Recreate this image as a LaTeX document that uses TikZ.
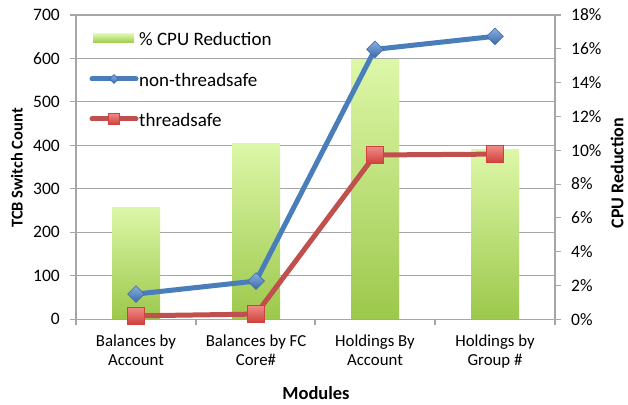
\documentclass[tikz,border=0pt]{standalone}
\usepackage{fontspec}
\setmainfont{Carlito}
\usetikzlibrary{shapes.geometric}
\definecolor{gridc}{HTML}{A6A6A6}
\definecolor{barTop}{HTML}{DDF7A8}
\definecolor{barBot}{HTML}{9CC84B}
\definecolor{blueL}{HTML}{4A7EBB}
\definecolor{blueM}{HTML}{6A9BDB}
\definecolor{blueD}{HTML}{3C6AA8}
\definecolor{redL}{HTML}{C0504D}
\definecolor{redM}{HTML}{F08A86}
\definecolor{redD}{HTML}{D0403C}
\tikzset{
  lbl/.style={font=\fontsize{17.5}{19}\selectfont, inner sep=0pt},
  catl/.style={font=\fontsize{16.8}{19}\selectfont, inner sep=0pt, align=center},
  legl/.style={font=\fontsize{19}{21}\selectfont, inner sep=0pt},
  ttl/.style={font=\fontsize{16.5}{18}\selectfont\bfseries, inner sep=0pt},
  grid line/.style={draw=gridc, line width=1.1pt},
  bar/.style={top color=barTop, bottom color=barBot, draw=none},
  bline/.style={draw=blueL, line width=5pt, line join=round},
  rline/.style={draw=redL, line width=5pt, line join=round},
  bmark/.style={diamond, draw=blueD, line width=0.6pt, top color=blueM!80!white, bottom color=blueD, minimum width=17pt, minimum height=17pt, inner sep=0pt},
  rmark/.style={rectangle, draw=redD, line width=0.6pt, top color=redM, bottom color=redD, minimum size=17pt, inner sep=0pt},
}
\begin{document}
\begin{tikzpicture}[x=1pt,y=1pt]
\useasboundingbox (0,0) rectangle (628,404);
\fill[white] (0,0) rectangle (628,404);
\begin{scope}[shift={(76,84.7)}, y=0.4347pt]
  % grid lines
  \foreach \v in {100,200,...,700} \draw[grid line] (0,\v) -- (479,\v);
  % bars
  \fill[bar] (36,0) rectangle (84,258);
  \fill[bar] (156,0) rectangle (204,405);
  \fill[bar] (275,0) rectangle (323,598);
  \fill[bar] (395,0) rectangle (443,391);
  % axes
  \draw[grid line] (0,0) -- (0,700);
  \draw[grid line] (479,0) -- (479,700);
  \draw[grid line] (0,0) -- (479,0);
  % left ticks and labels
  \foreach \v in {0,100,...,700} {
    \draw[grid line] (-6,\v) -- (0,\v);
    \node[lbl, anchor=east] (l\v) at (-16,\v) {\v};
  }
  % right ticks and labels
  \foreach \p in {0,2,...,18} {
    \draw[grid line] (479,{\p*700/18}) -- (485,{\p*700/18});
    \node[lbl, anchor=west] (r\p) at (495,{\p*700/18}) {\p\%};
  }
  % bottom ticks
  \foreach \x in {0,120,239,359,479} \draw[grid line] (\x,0) -- (\x,-12);
  % category labels
  \node[catl, anchor=north] (c1) at (60,-36) {Balances by\\Account};
  \node[catl, anchor=north] (c2) at (180,-36) {Balances by FC\\Core\#};
  \node[catl, anchor=north] (c3) at (299,-36) {Holdings By\\Account};
  \node[catl, anchor=north] (c4) at (419,-36) {Holdings by\\Group \#};
  % series
  \coordinate (b1) at (60,58);
  \coordinate (b2) at (180,88);
  \coordinate (b3) at (299,621);
  \coordinate (b4) at (419,651);
  \coordinate (t1) at (60,8);
  \coordinate (t2) at (180,12);
  \coordinate (t3) at (299,378);
  \coordinate (t4) at (419,380);
  \draw[bline] (b1) -- (b2) -- (b3) -- (b4);
  \foreach \i in {1,...,4} \node[bmark] (bm\i) at (b\i) {};
  \draw[rline] (t1) -- (t2) -- (t3) -- (t4);
  \foreach \i in {1,...,4} \node[rmark] (rm\i) at (t\i) {};
\end{scope}
% legend
\fill[bar] (93,361) rectangle (134,370);
\node[legl, anchor=west] (lg1) at (139,365) {\% CPU Reduction};
\coordinate (lb1) at (92,325);
\coordinate (lb2) at (136,325);
\draw[bline, line cap=round] (lb1) -- (lb2);
\node[bmark, minimum width=9pt, minimum height=9pt] (lbm) at (114,325) {};
\node[legl, anchor=west] (lg2) at (139,324) {non-threadsafe};
\coordinate (lr1) at (92,285);
\coordinate (lr2) at (136,285);
\draw[rline, line cap=round] (lr1) -- (lr2);
\node[rmark, minimum size=11pt] (lrm) at (114,285) {};
\node[legl, anchor=west] (lg3) at (139,284) {threadsafe};
% axis titles
\node[ttl, rotate=90] (yt) at (17,236) {TCB Switch Count};
\node[ttl, font=\fontsize{18}{20}\selectfont\bfseries, rotate=90] (yt2) at (617,231) {CPU Reduction};
\node[ttl, font=\fontsize{18.5}{20}\selectfont\bfseries] (xt) at (316,11) {Modules};
\end{tikzpicture}
\end{document}
